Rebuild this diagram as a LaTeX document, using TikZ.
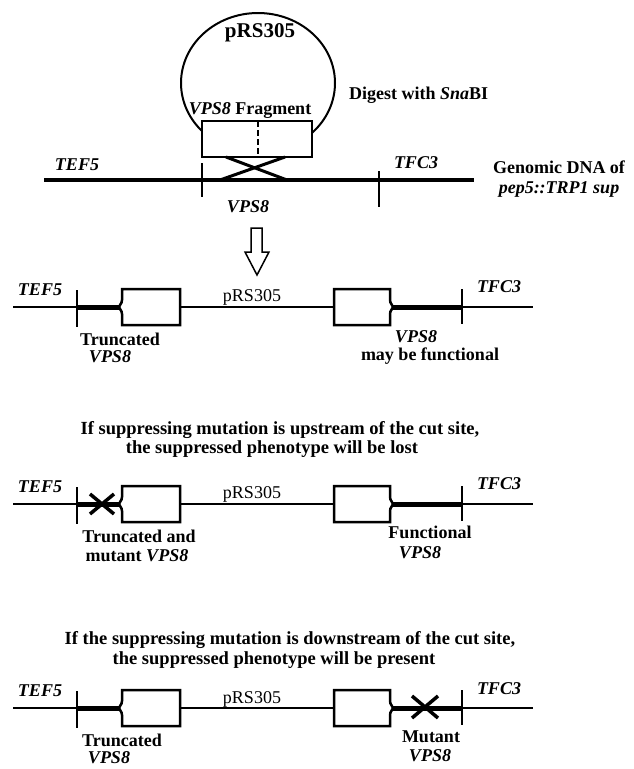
\documentclass[tikz,border=0pt]{standalone}
\usepackage{fontspec}
\setmainfont{Liberation Serif}
\tikzset{
  txt/.style={font=\bfseries\fontsize{18}{20}\selectfont, inner sep=0pt},
  rtxt/.style={font=\fontsize{18}{20}\selectfont, inner sep=0pt},
  gtxt/.style={font=\bfseries\itshape\fontsize{18}{20}\selectfont, inner sep=0pt},
  ttl/.style={font=\bfseries\fontsize{18.5}{22}\selectfont, inner sep=0pt},
  thinline/.style={line width=2pt},
  midline/.style={line width=2.5pt},
  thickline/.style={line width=5pt},
  tickline/.style={line width=2.5pt},
  boxline/.style={line width=2.5pt, fill=white, line join=miter},
  mutx/.style={line width=3.5pt},
}
\newcommand\dnarow[2]{%
  \begin{scope}[shift={(0,#1)}]
    \coordinate (#2a) at (13,0);
    \coordinate (#2t1) at (77,0);
    \coordinate (#2b1) at (122,0);
    \coordinate (#2b1r) at (180,0);
    \coordinate (#2b2) at (334,0);
    \coordinate (#2b2r) at (390,0);
    \coordinate (#2t2) at (462,0);
    \coordinate (#2z) at (533,0);
    \draw[midline] (#2a) -- (#2t1);
    \draw[thickline] (#2t1) -- (#2b1);
    \draw[thinline] (#2b1r) -- (#2b2);
    \draw[thickline] (#2b2r) -- (#2t2);
    \draw[midline] (#2t2) -- (#2z);
    \draw[tickline] ([yshift=17pt]#2t1) -- ([yshift=-20pt]#2t1);
    \draw[tickline] ([yshift=18pt]#2t2) -- ([yshift=-17pt]#2t2);
    \draw[boxline] (122,-18) -- (180,-18) -- (180,18) -- (122,18) -- (122,7)
      .. controls (122,3) and (119,2) .. (119,0)
      .. controls (119,-2) and (122,-3) .. (122,-7) -- cycle;
    \draw[boxline] (334,-18) -- (390,-18) -- (390,-7)
      .. controls (390,-3) and (393,-2) .. (393,0)
      .. controls (393,2) and (390,3) .. (390,7) -- (390,18) -- (334,18) -- cycle;
  \end{scope}}
\begin{document}
\begin{tikzpicture}[x=1pt,y=-1pt]
\useasboundingbox (0,0) rectangle (633,769);
% ---------- top: plasmid and genomic DNA ----------
\draw[line width=2pt] (258,83) ellipse [x radius=77, y radius=70];
\node[font=\bfseries\fontsize{21}{24}\selectfont, inner sep=0pt] (plas) at (260,33) {pRS305};
\node[txt] (frag) at (250,110) {\textit{VPS8} Fragment};
\node[txt, anchor=west] (dig) at (349,95) {Digest with \textit{Sna}BI};
\draw[boxline] (202,121) rectangle (312,157);
\coordinate (cutT) at (258,121);
\coordinate (cutB) at (258,157);
\draw[line width=2pt, dash pattern=on 6pt off 3pt] (cutT) -- (cutB);
\coordinate (gL) at (44,180);
\coordinate (gR) at (474,180);
\draw[line width=4.5pt] (gL) -- (gR);
\coordinate (xa1) at (226,157); \coordinate (xa2) at (287,180);
\coordinate (xb1) at (285,157); \coordinate (xb2) at (220,180);
\draw[line width=3pt] (xa1) -- (xa2);
\draw[line width=3pt] (xb1) -- (xb2);
\coordinate (tk1) at (202,180); \coordinate (tk2) at (379,180);
\draw[tickline] ([yshift=17pt]tk1) -- ([yshift=-17pt]tk1);
\draw[tickline] ([yshift=9pt]tk2) -- ([yshift=-27pt]tk2);
\node[gtxt] (tef0) at (77,165) {TEF5};
\node[gtxt] (tfc0) at (416,163) {TFC3};
\node[gtxt] (vps0) at (248,207) {VPS8};
\node[txt] (gen1) at (559,167) {Genomic DNA of};
\node[gtxt] (gen2) at (559,189) {pep5::TRP1 sup};
% ---------- open arrow ----------
\draw[line width=1.5pt, fill=white, line join=miter]
  (251,228) -- (262,228) -- (262,252) -- (269,252) -- (257,275) -- (245,252) -- (251,252) -- cycle;
% ---------- row 2 ----------
\dnarow{307}{r}
\node[gtxt] (tef1) at (40,290) {TEF5};
\node[gtxt] (tfc1) at (499,287) {TFC3};
\node[rtxt] (pl1) at (252,297) {pRS305};
\node[txt] (tr1) at (120,339) {Truncated};
\node[gtxt] (tv1) at (110,357) {VPS8};
\node[gtxt] (fv1) at (416,337) {VPS8};
\node[txt] (mf1) at (430,356) {may be functional};
% ---------- row 3 ----------
\node[ttl] (h3a) at (280,430) {If suppressing mutation is upstream of the cut site,};
\node[ttl] (h3b) at (272,449) {the suppressed phenotype will be lost};
\dnarow{504}{s}
\node[gtxt] (tef2) at (40,487) {TEF5};
\node[gtxt] (tfc2) at (499,484) {TFC3};
\node[rtxt] (pl2) at (252,494) {pRS305};
\coordinate (m1) at (102,504);
\draw[mutx] ([xshift=-12pt,yshift=10pt]m1) -- ([xshift=12pt,yshift=-10pt]m1);
\draw[mutx] ([xshift=-12pt,yshift=-10pt]m1) -- ([xshift=12pt,yshift=10pt]m1);
\node[txt] (tr2) at (139,536) {Truncated and};
\node[txt] (mu2) at (137,556) {mutant \textit{VPS8}};
\node[txt] (fu2) at (430,532) {Functional};
\node[gtxt] (fv2) at (420,553) {VPS8};
% ---------- row 4 ----------
\node[ttl] (h4a) at (290,640) {If the suppressing mutation is downstream of the cut site,};
\node[ttl] (h4b) at (274,660) {the suppressed phenotype will be present};
\dnarow{708}{t}
\node[gtxt] (tef3) at (40,691) {TEF5};
\node[gtxt] (tfc3) at (499,689) {TFC3};
\node[rtxt] (pl3) at (252,699) {pRS305};
\coordinate (m2) at (425,707);
\draw[mutx] ([xshift=-13pt,yshift=11pt]m2) -- ([xshift=13pt,yshift=-11pt]m2);
\draw[mutx] ([xshift=-13pt,yshift=-11pt]m2) -- ([xshift=13pt,yshift=11pt]m2);
\node[txt] (tr3) at (122,740) {Truncated};
\node[gtxt] (tv3) at (109,758) {VPS8};
\node[txt] (mu3) at (431,737) {Mutant};
\node[gtxt] (mv3) at (430,756) {VPS8};
\end{tikzpicture}
\end{document}
